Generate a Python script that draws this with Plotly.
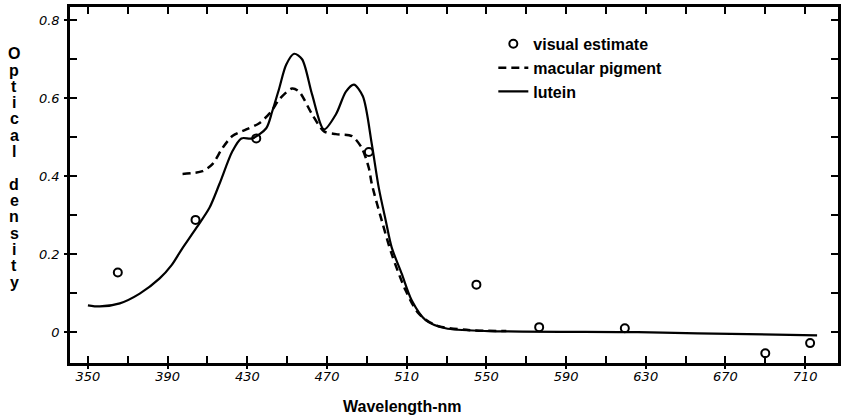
import plotly.graph_objects as go

# Lutein absorption (solid)
lutein_nm = [350, 356, 366, 376, 386, 392, 397, 404.5, 411, 416, 422.5, 427, 432.5,
             439.5, 442.5, 446, 449.5, 453.5, 457.5, 462.5, 468.5, 474.5, 479.5, 483.5,
             488, 492.5, 496, 499.5, 502.5, 507.5, 512.5, 519.5, 529.5, 551, 626, 656, 716]
lutein_od = [0.069, 0.066, 0.074, 0.099, 0.138, 0.172, 0.212, 0.268, 0.319, 0.380, 0.464, 0.497, 0.497,
             0.523, 0.566, 0.625, 0.686, 0.714, 0.700, 0.610, 0.520, 0.559, 0.617, 0.635,
             0.605, 0.482, 0.370, 0.286, 0.217, 0.150, 0.082, 0.031, 0.010, 0.003, 0.000, -0.003, -0.008]

# Macular pigment (dashed)
macular_nm = [397.5, 407.5, 412.5, 417.5, 422.5, 429.5, 436, 442, 446, 452.5, 456, 462.5, 468.5,
              474.5, 482.5, 487.5, 491, 492.5, 497.5, 502.5, 509.5, 516, 524.5, 540, 560]
macular_od = [0.406, 0.413, 0.431, 0.472, 0.503, 0.520, 0.536, 0.566, 0.597, 0.625, 0.617, 0.559, 0.515,
              0.508, 0.503, 0.472, 0.421, 0.380, 0.286, 0.200, 0.107, 0.048, 0.018, 0.006, 0.003]

# Visual estimate (open circles)
visual_nm = [365, 404, 434.5, 491, 545, 576.5, 619.5, 690, 712.5]
visual_od = [0.153, 0.288, 0.497, 0.462, 0.122, 0.013, 0.010, -0.054, -0.028]

x_major = [350, 390, 430, 470, 510, 550, 590, 630, 670, 710]
y_major = [0, 0.2, 0.4, 0.6, 0.8]
y_title = "Optical density"

XR = [341, 726.5]
YR = [-0.079, 0.834]

fig = go.Figure()
fig.add_trace(go.Scatter(x=visual_nm, y=visual_od, mode="markers", name="visual estimate",
                         marker=dict(symbol="circle-open", size=8, color="black", line=dict(width=2, color="black"))))
fig.add_trace(go.Scatter(x=macular_nm, y=macular_od, mode="lines", name="macular pigment",
                         line=dict(color="black", width=2.5, dash="8px,5px", shape="spline", smoothing=0.8)))
fig.add_trace(go.Scatter(x=lutein_nm, y=lutein_od, mode="lines", name="lutein",
                         line=dict(color="black", width=2.2, shape="spline", smoothing=0.8)))
# empty trace to anchor the overlay axes (outer tick marks)
fig.add_trace(go.Scatter(x=[], y=[], xaxis="x2", yaxis="y2", showlegend=False, hoverinfo="skip"))

tickfont = dict(family="DejaVu Sans", size=13, color="black", style="italic")

fig.update_layout(
    width=845, height=418,
    margin=dict(l=70, r=4, t=5, b=55),
    paper_bgcolor="white", plot_bgcolor="white",
    showlegend=True,
    legend=dict(x=0.5512, y=0.944, xanchor="left", yanchor="top",
                font=dict(family="Liberation Sans", size=16, color="black", weight="bold"),
                bgcolor="rgba(0,0,0,0)", itemwidth=30, tracegroupgap=0),
    xaxis=dict(range=XR, tick0=350, dtick=40, ticks="inside", ticklen=7, tickwidth=1.5,
               tickcolor="black", showline=True, linecolor="black", linewidth=2.5, mirror="ticks",
               showgrid=False, zeroline=False, tickfont=tickfont, ticklabelstandoff=0,
               minor=dict(dtick=20, tick0=350, ticks="inside", ticklen=7, tickwidth=1.5, tickcolor="black", showgrid=False)),
    yaxis=dict(range=YR, tick0=0, dtick=0.2, ticks="inside", ticklen=7, tickwidth=1.5,
               tickcolor="black", showline=True, linecolor="black", linewidth=2.5, mirror="ticks",
               showgrid=False, zeroline=False, tickfont=tickfont, ticklabelstandoff=5,
               minor=dict(dtick=0.1, tick0=0, ticks="inside", ticklen=7, tickwidth=1.5, tickcolor="black", showgrid=False)),
    xaxis2=dict(range=XR, overlaying="x", anchor="y", side="bottom", tickvals=x_major, ticks="outside",
                ticklen=5, tickwidth=1.5, tickcolor="black", showticklabels=False, showline=False,
                showgrid=False, zeroline=False),
    yaxis2=dict(range=YR, overlaying="y", anchor="x", side="left", tickvals=y_major, ticks="outside",
                ticklen=5, tickwidth=1.5, tickcolor="black", showticklabels=False, showline=False,
                showgrid=False, zeroline=False),
)

annots = []
annots.append(dict(text="Wavelength-nm", xref="paper", yref="paper",
                   x=(403.5 - 70) / 771, y=(363 - 407) / 358, xanchor="center", yanchor="middle",
                   showarrow=False, font=dict(family="Liberation Sans", size=16, color="black", weight="bold")))
for i, ch in enumerate(y_title):
    if ch == " ":
        continue
    ypix = 52 + 16.4 * i
    annots.append(dict(text=ch, xref="paper", yref="paper",
                       x=(14 - 70) / 771, y=(363 - ypix) / 358, xanchor="center", yanchor="middle",
                       showarrow=False, font=dict(family="Liberation Sans", size=16, color="black", weight="bold")))
fig.update_layout(annotations=annots)

fig.write_html("out.html", config={"displayModeBar": False},
               post_script="document.body.style.margin='0';document.body.style.overflow='hidden';")
